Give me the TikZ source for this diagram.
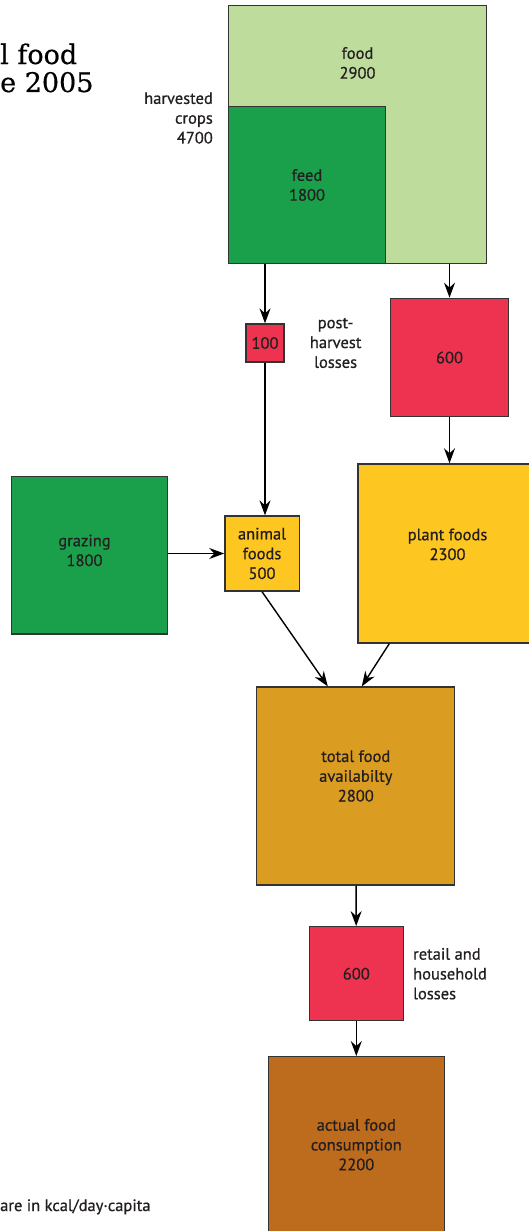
\documentclass[tikz,border=0pt]{standalone}
\usepackage{fontspec}
\setmainfont{PT Sans}
\newfontfamily\lblfam{PT Sans}[FakeBold=0.7]
\newfontfamily\titlefont{DejaVu Serif}[FakeBold=0.5]
\usepackage{xcolor}
\usepackage{tikz}
\usetikzlibrary{arrows.meta}
\usetikzlibrary{positioning}
\definecolor{foodgreen}{HTML}{BEDC9C}
\definecolor{feedgreen}{HTML}{1A9F4B}
\definecolor{lossred}{HTML}{EE3350}
\definecolor{plantyellow}{HTML}{FDC620}
\definecolor{totalgold}{HTML}{DB9C22}
\definecolor{actualbrown}{HTML}{BD6B1D}
\definecolor{edge}{HTML}{333333}
\definecolor{ink}{HTML}{231F20}
\newcommand{\lblfont}{\lblfam\fontsize{16.5}{19.8}\selectfont}
\tikzset{box/.style={draw=edge, line width=1.3pt, inner sep=0pt, text=ink, align=center, font=\lblfont}}
\tikzset{boxtxt/.style={inner sep=0pt, text=ink, align=center, font=\lblfont}}
\tikzset{note/.style={inner sep=0pt, text=ink, font=\lblfont}}
\tikzset{arr/.style={-{Stealth[length=15pt,width=11pt,inset=5pt]}, line width=1.4pt, color=black}}

\begin{document}
\begin{tikzpicture}[x=1pt, y=-1pt, node distance={20pt}]
	\useasboundingbox (0,0) rectangle (529,1231);
	
	\node[inner sep=0pt, font=\titlefont\fontsize{27}{28}\selectfont, anchor=base west] (title1) at (0,64) {l food};
	\node[inner sep=0pt, font=\titlefont\fontsize{27}{28}\selectfont, anchor=base west] (title2) at (0,92) {e 2005};
	
	\node[box, fill=foodgreen, minimum width=258.4pt, minimum height=257.6pt,
		label={[boxtxt, yshift=71.5pt]center:{food\\2900}}] (food) at (357.5,134.5) {};
	\node[box, fill=feedgreen, minimum width=157.4pt, minimum height=156.6pt] (feed) at (307,185) {feed\\1800};
	\node[note, align=right, anchor=east] (crops) at (213,118) {harvested\\crops\\4700};
	
	\node[box, fill=lossred, minimum size=38pt] (loss100) at (265,343) {100};
	\node[note, align=center, right=25pt of loss100] (postlbl) {post-\\harvest\\losses};
	\node[box, fill=lossred, minimum size=118.4pt] (lossA) at (449.5,357.5) {600};
	
	\node[box, fill=plantyellow, minimum size=179pt,
		label={[boxtxt, yshift=9pt]center:{plant foods\\2300}}] (plant) at (447.5,553.4) {};
	\node[box, fill=plantyellow, minimum width=74.3pt, minimum height=75pt] (animal) at (262,553.5) {animal\\foods\\500};
	\node[box, fill=feedgreen, minimum width=155.6pt, minimum height=157.3pt,
		label={[boxtxt, xshift=-5pt, yshift=5pt]center:{grazing\\1800}}] (grazing) at (89.5,555.4) {};
	
	\node[box, fill=totalgold, minimum size=198pt,
		label={[boxtxt, yshift=10pt]center:{total food\\availabilty\\2800}}] (total) at (355.8,786) {};
	\node[box, fill=lossred, minimum size=94pt] (lossB) at (356.3,973.7) {600};
	\node[note, align=left, right=9pt of lossB] (retaillbl) {retail and\\household\\losses};
	\node[box, fill=actualbrown, minimum size=176pt] (actual) at (356.3,1144.7) {actual food\\consumption\\2200};
	
	\node[note, anchor=base west] (units) at (0,1211) {are in kcal/day·capita};
	
	\draw[arr] (feed.south -| loss100) -- (loss100);
	\draw[arr] (food.south -| lossA) -- (lossA);
	\draw[arr] (lossA.south) -- (lossA.south |- plant.north);
	\draw[arr] (loss100.south) -- (loss100.south |- animal.north);
	\draw[arr] (grazing.east |- animal.west) -- (animal.west);
	\draw[arr] (animal.south) -- ([xshift=-28pt]total.north);
	\draw[arr] ([xshift=32pt]plant.south west) -- ([xshift=6pt]total.north);
	\draw[arr] (total) -- (lossB);
	\draw[arr] (lossB) -- (actual);
\end{tikzpicture}
\end{document}
